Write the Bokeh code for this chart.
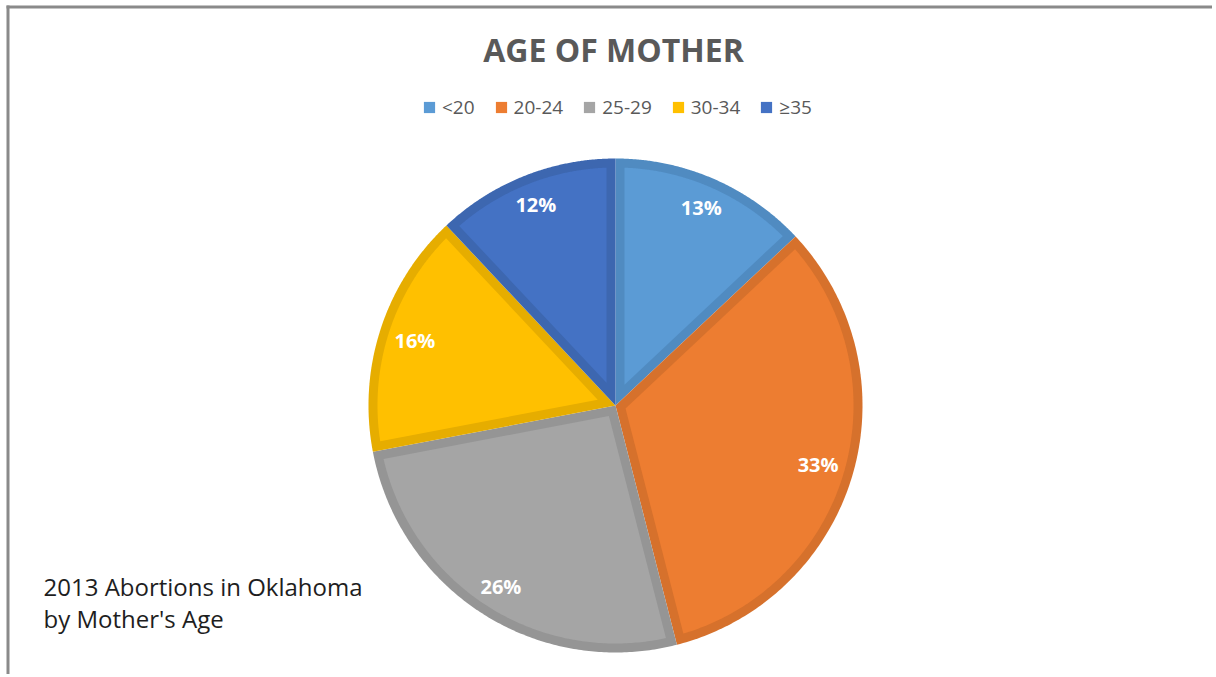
import numpy as np
from bokeh.plotting import figure
from bokeh.models import ColumnDataSource, Range1d, Label, Legend, LegendItem, BoxAnnotation
from bokeh.core.properties import value
from bokeh.embed import file_html
from bokeh.resources import INLINE

# ---- data ----
categories = ["<20", "20-24", "25-29", "30-34", "\u226535"]
shares = [13, 33, 26, 16, 12]
fill_colors = ["#5B9BD5", "#ED7D31", "#A5A5A5", "#FFC000", "#4472C4"]
edge_colors = ["#508BC1", "#D6712C", "#959595", "#E6AD00", "#3D67B0"]
title_text = "AGE OF MOTHER"
note_lines = ["2013 Abortions in Oklahoma", "by Mother's Age"]

# ---- layout constants ----
W, H = 1212, 674
CX, CY = 615, 405          # pie centre on canvas (px from left / top)
RPX = 247.0                # radius in px
px = 1.0 / RPX             # one pixel in data units (R = 1)
band = 9 * px              # inset border band width

total = float(sum(shares))
cum = np.concatenate([[0.0], np.cumsum(shares)])
starts = np.pi / 2 - 2 * np.pi * cum[:-1] / total
ends = np.pi / 2 - 2 * np.pi * cum[1:] / total

outer_xs, outer_ys, inner_xs, inner_ys = [], [], [], []
lab_x, lab_y = [], []
for a0, a1 in zip(starts, ends):
    t = np.linspace(a0, a1, 160)
    outer_xs.append(np.concatenate([[0.0], np.cos(t), [0.0]]))
    outer_ys.append(np.concatenate([[0.0], np.sin(t), [0.0]]))
    theta = a0 - a1
    mid = (a0 + a1) / 2
    d = band / np.sin(theta / 2)
    ax, ay = d * np.cos(mid), d * np.sin(mid)
    r_in = 1.0 - band
    dl = np.arcsin(band / r_in)
    ti = np.linspace(a0 - dl, a1 + dl, 160)
    inner_xs.append(np.concatenate([[ax], r_in * np.cos(ti), [ax]]))
    inner_ys.append(np.concatenate([[ay], r_in * np.sin(ti), [ay]]))
    ext = abs(np.cos(mid)) * 20 * px + abs(np.sin(mid)) * 10 * px
    rl = 1.0 - 14 * px - ext
    lab_x.append(rl * np.cos(mid))
    lab_y.append(rl * np.sin(mid))

src_outer = ColumnDataSource(dict(xs=outer_xs, ys=outer_ys, c=edge_colors))
src_inner = ColumnDataSource(dict(xs=inner_xs, ys=inner_ys, c=fill_colors, cat=categories))
src_lab = ColumnDataSource(dict(x=lab_x, y=lab_y, t=[f"{s}%" for s in shares]))

p = figure(width=W, height=H, output_backend="svg", toolbar_location=None,
           x_range=Range1d(-CX * px, (W - CX) * px),
           y_range=Range1d(-(H - CY) * px, CY * px),
           x_axis_location=None, y_axis_location=None,
           min_border=0, min_border_left=0, min_border_right=0,
           min_border_top=0, min_border_bottom=0)
p.title.visible = False
p.grid.visible = False
p.outline_line_color = None
p.background_fill_color = "white"
p.border_fill_color = "white"

p.patches("xs", "ys", source=src_outer, fill_color="c", line_color=None)
inner = p.patches("xs", "ys", source=src_inner, fill_color="c", line_color=None)

p.text("x", "y", text="t", source=src_lab, text_color="white",
       text_font=value("Open Sans"), text_font_style="bold", text_font_size="20px",
       text_align="center", text_baseline="middle")

# frame border (top and left)
p.add_layout(BoxAnnotation(left=(6 - CX) * px, top=(CY - 5) * px, bottom=(CY - 8) * px,
                           fill_color="#8A8A8A", fill_alpha=1, line_color=None))
p.add_layout(BoxAnnotation(left=(6 - CX) * px, right=(9 - CX) * px, top=(CY - 5) * px,
                           fill_color="#8A8A8A", fill_alpha=1, line_color=None))

# legend
items = [LegendItem(label=c, renderers=[inner], index=i) for i, c in enumerate(categories)]
legend = Legend(items=items, orientation="horizontal", location=(422, H - 120),
                label_text_font="Open Sans", label_text_font_size="19px",
                label_text_color="#595959", glyph_width=14, glyph_height=14,
                label_standoff=6, spacing=19, padding=0, margin=0,
                border_line_color=None, background_fill_alpha=0)
p.add_layout(legend, "center")

# title
p.add_layout(Label(x=613, y=H - 49, x_units="screen", y_units="screen", text=title_text,
                   text_align="center", text_baseline="alphabetic",
                   text_font="Open Sans", text_font_style="bold",
                   text_font_size="32px", text_color="#595959"))

# note
for i, line in enumerate(note_lines):
    p.add_layout(Label(x=43, y=H - 586 - 32 * i, x_units="screen", y_units="screen", text=line,
                       text_align="left", text_baseline="alphabetic",
                       text_font="Open Sans", text_font_size="24px",
                       text_color="#1E1E1E"))

open("out.html", "w").write(file_html(p, INLINE))
